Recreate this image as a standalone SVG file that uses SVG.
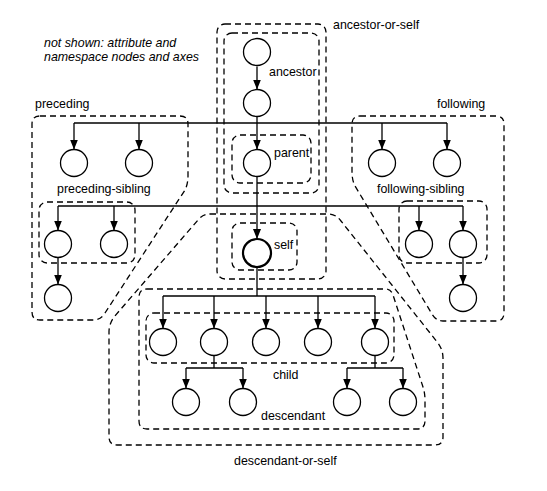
<svg xmlns="http://www.w3.org/2000/svg" width="547" height="491" viewBox="0 0 547 491">
<defs>
<style>
.bg{fill:#fff}
.n{fill:#fff;stroke:#000;stroke-width:1.3}
.self{fill:#fff;stroke:#000;stroke-width:2.2}
.c{fill:none;stroke:#000;stroke-width:1.3}
.ax{fill:none;stroke:#000;stroke-width:1.3;stroke-dasharray:6 4}
text{font-family:"Liberation Sans",Arial,Helvetica,sans-serif;font-size:12.4px;fill:#000}
.it{font-style:italic}
</style>
<marker id="ah" viewBox="0 0 10 8" refX="10" refY="4" markerWidth="10" markerHeight="8" markerUnits="userSpaceOnUse" orient="auto">
<path d="M0,0 L10,4 L0,8 Z" fill="#000"/>
</marker>
</defs>
<rect class="bg" x="0" y="0" width="547" height="491"/>

<g id="note">
<text class="it" x="44" y="47">not shown: attribute and</text>
<text class="it" x="44" y="61">namespace nodes and axes</text>
</g>

<g id="axes">
<g id="ancestor-or-self"><rect class="ax" x="217" y="24" width="109" height="255" rx="8"/><text x="333" y="29">ancestor-or-self</text></g>
<g id="ancestor"><rect class="ax" x="224" y="33" width="95" height="160" rx="8"/><text x="269" y="76">ancestor</text></g>
<g id="parent-axis"><rect class="ax" x="232" y="135" width="79" height="48" rx="8"/><text x="274" y="157">parent</text></g>
<g id="self-axis"><rect class="ax" x="232" y="223" width="65" height="47" rx="8"/><text x="274" y="249">self</text></g>
<g id="preceding"><path class="ax" d="M40,116 H180 Q188,116 188,124 V176 Q188,184 185,190 L105,313 Q101,320 93,320 H40 Q32,320 32,312 V124 Q32,116 40,116 Z"/><text x="35" y="108">preceding</text></g>
<g id="preceding-sibling"><rect class="ax" x="39" y="202" width="96" height="61" rx="8"/><text x="57" y="193">preceding-sibling</text></g>
<g id="following"><path class="ax" d="M360,116 H496 Q504,116 504,124 V313 Q504,321 496,321 H443 Q436,321 432,314 L355,186 Q352,180 352,172 V124 Q352,116 360,116 Z"/><text x="437" y="108">following</text></g>
<g id="following-sibling"><rect class="ax" x="399" y="201" width="88" height="62" rx="8"/><text x="377" y="193">following-sibling</text></g>
<g id="descendant-or-self"><path class="ax" d="M210,214 H328 Q336,214 341,221 L438,343 Q443,350 443,358 V437 Q443,445 435,445 H117 Q109,445 109,437 V332 Q109,324 114,317 L198,220 Q203,214 210,214 Z"/><text x="234" y="465">descendant-or-self</text></g>
<g id="descendant"><path class="ax" d="M147,289 H385 Q391,289 393,295 L423,387 Q425,393 425,400 V421 Q425,429 417,429 H147 Q139,429 139,421 V297 Q139,289 147,289 Z"/><text x="261" y="420">descendant</text></g>
<g id="child-axis"><rect class="ax" x="146" y="313" width="248" height="50" rx="8"/><text x="273" y="379">child</text></g>
</g>

<g id="connectors">
<path class="c" d="M257,66.5 V89.5" marker-end="url(#ah)"/>
<path class="c" d="M257,116.5 V149.5" marker-end="url(#ah)"/>
<path class="c" d="M257,176.5 V239" marker-end="url(#ah)"/>
<path class="c" d="M74,123 H447"/>
<path class="c" d="M74,123 V149.5" marker-end="url(#ah)"/>
<path class="c" d="M139,123 V149.5" marker-end="url(#ah)"/>
<path class="c" d="M382,123 V149.5" marker-end="url(#ah)"/>
<path class="c" d="M447,123 V149.5" marker-end="url(#ah)"/>
<path class="c" d="M58,206 H463"/>
<path class="c" d="M58,206 V230.5" marker-end="url(#ah)"/>
<path class="c" d="M114,206 V230.5" marker-end="url(#ah)"/>
<path class="c" d="M419,206 V230.5" marker-end="url(#ah)"/>
<path class="c" d="M463,206 V230.5" marker-end="url(#ah)"/>
<path class="c" d="M58,257.5 V284.5" marker-end="url(#ah)"/>
<path class="c" d="M463,257.5 V284.5" marker-end="url(#ah)"/>
<path class="c" d="M257,267 V296"/>
<path class="c" d="M163,296 H375"/>
<path class="c" d="M163,296 V328.5" marker-end="url(#ah)"/>
<path class="c" d="M214,296 V328.5" marker-end="url(#ah)"/>
<path class="c" d="M266,296 V328.5" marker-end="url(#ah)"/>
<path class="c" d="M318,296 V328.5" marker-end="url(#ah)"/>
<path class="c" d="M375,296 V328.5" marker-end="url(#ah)"/>
<path class="c" d="M214,355.5 V368 M186,368 H243"/>
<path class="c" d="M186,368 V388.5" marker-end="url(#ah)"/>
<path class="c" d="M243,368 V388.5" marker-end="url(#ah)"/>
<path class="c" d="M375,355.5 V368 M347,368 H403"/>
<path class="c" d="M347,368 V388.5" marker-end="url(#ah)"/>
<path class="c" d="M403,368 V388.5" marker-end="url(#ah)"/>
</g>

<g id="nodes">
<g id="anc1"><circle class="n" cx="257" cy="52" r="13.5"/></g>
<g id="anc2"><circle class="n" cx="257" cy="103" r="13.5"/></g>
<g id="parent"><circle class="n" cx="257" cy="163" r="13.5"/></g>
<g id="self"><circle class="self" cx="257" cy="253" r="14"/></g>
<g id="prec1"><circle class="n" cx="74" cy="163" r="13.5"/></g>
<g id="prec2"><circle class="n" cx="139" cy="163" r="13.5"/></g>
<g id="foll1"><circle class="n" cx="382" cy="163" r="13.5"/></g>
<g id="foll2"><circle class="n" cx="447" cy="163" r="13.5"/></g>
<g id="psib1"><circle class="n" cx="58" cy="244" r="13.5"/></g>
<g id="psib2"><circle class="n" cx="114" cy="244" r="13.5"/></g>
<g id="psib1-child"><circle class="n" cx="58" cy="298" r="13.5"/></g>
<g id="fsib1"><circle class="n" cx="419" cy="244" r="13.5"/></g>
<g id="fsib2"><circle class="n" cx="463" cy="244" r="13.5"/></g>
<g id="fsib2-child"><circle class="n" cx="463" cy="298" r="13.5"/></g>
<g id="child1"><circle class="n" cx="163" cy="342" r="13.5"/></g>
<g id="child2"><circle class="n" cx="214" cy="342" r="13.5"/></g>
<g id="child3"><circle class="n" cx="266" cy="342" r="13.5"/></g>
<g id="child4"><circle class="n" cx="318" cy="342" r="13.5"/></g>
<g id="child5"><circle class="n" cx="375" cy="342" r="13.5"/></g>
<g id="gc1"><circle class="n" cx="186" cy="402" r="13.5"/></g>
<g id="gc2"><circle class="n" cx="243" cy="402" r="13.5"/></g>
<g id="gc3"><circle class="n" cx="347" cy="402" r="13.5"/></g>
<g id="gc4"><circle class="n" cx="403" cy="402" r="13.5"/></g>
</g>
</svg>
